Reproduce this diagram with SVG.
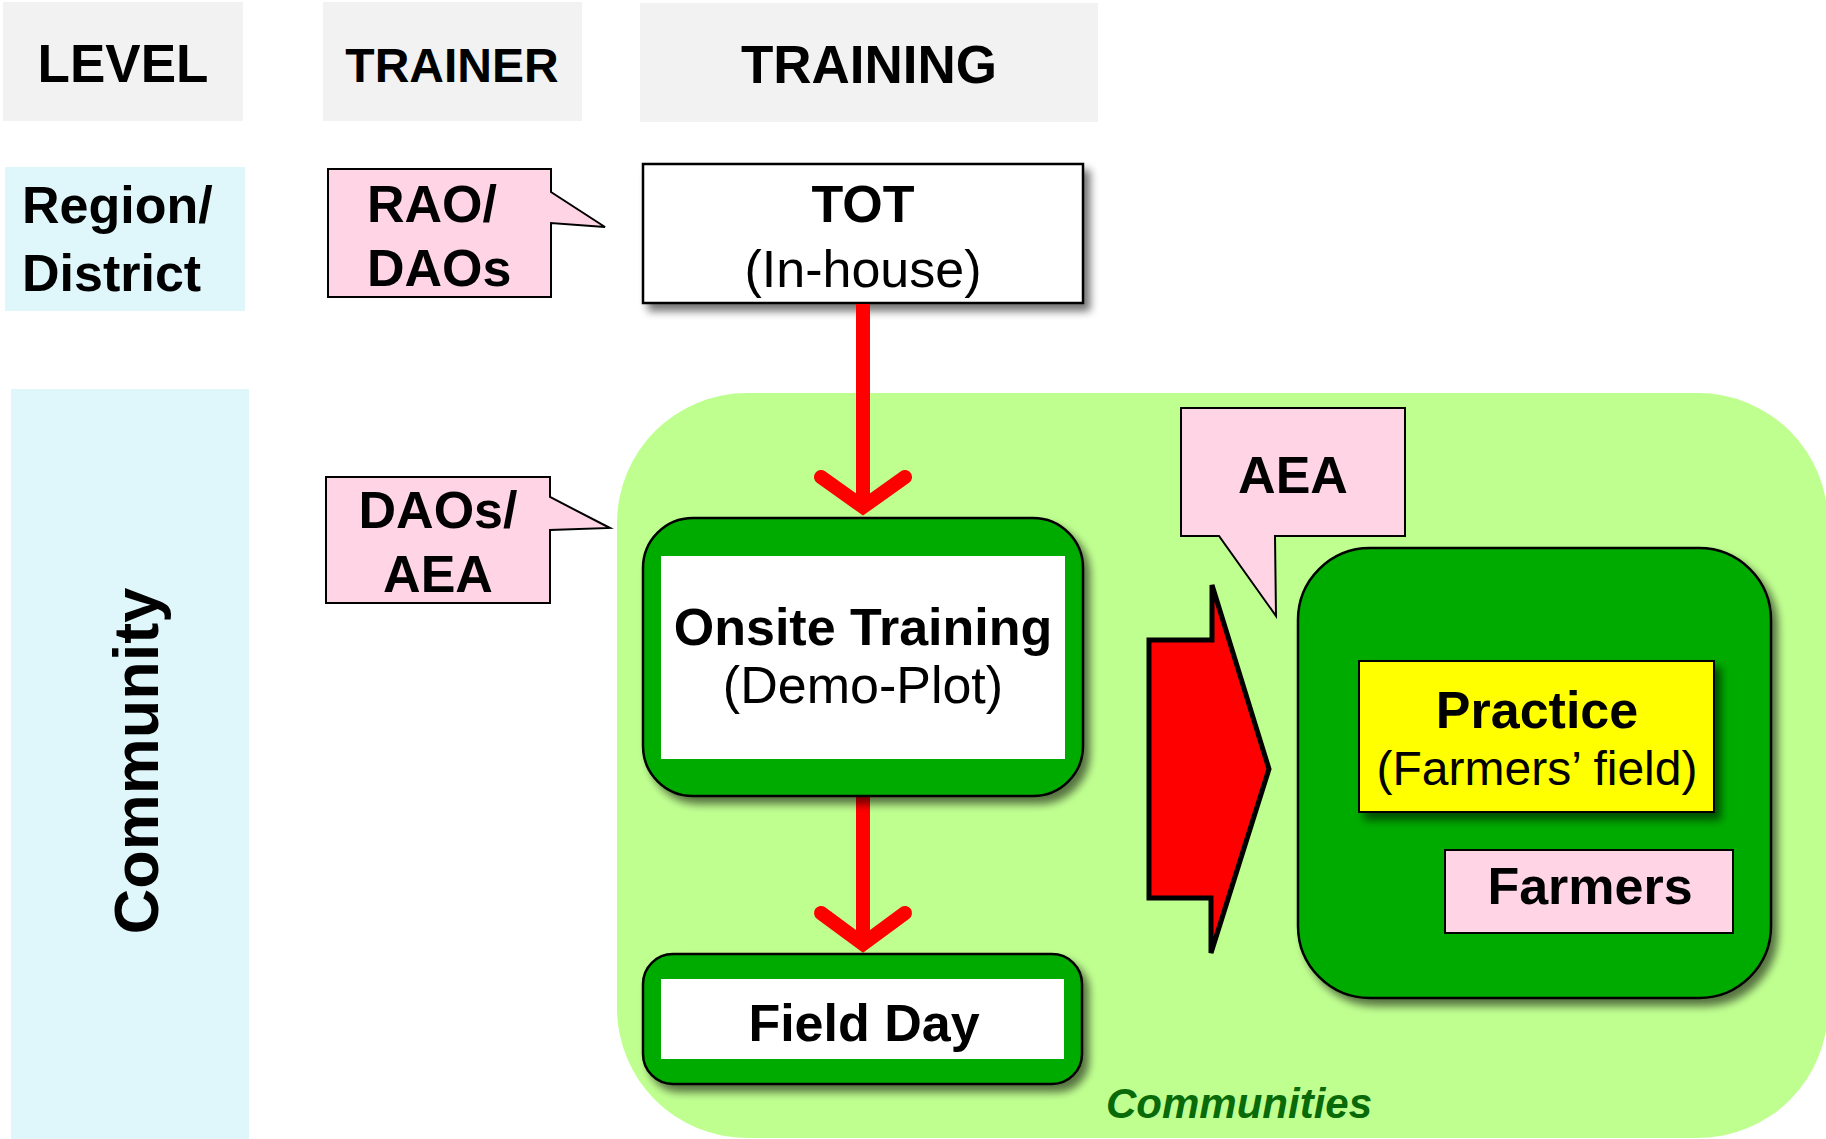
<svg xmlns="http://www.w3.org/2000/svg" width="1826" height="1139" viewBox="0 0 1826 1139">
<defs>
<filter id="sh" x="-10%" y="-10%" width="130%" height="130%">
<feGaussianBlur in="SourceAlpha" stdDeviation="4"/>
<feOffset dx="6" dy="7" result="b"/>
<feComponentTransfer><feFuncA type="linear" slope="0.55"/></feComponentTransfer>
<feMerge><feMergeNode/><feMergeNode in="SourceGraphic"/></feMerge>
</filter>
</defs>
<style>
.hdr{fill:#f2f2f2}
.lvl{fill:#dff6fa}
.pink{fill:#ffd5e6;stroke:#000;stroke-width:2}
.b{font-family:"Liberation Sans",Arial,sans-serif;font-weight:bold;fill:#000}
.r{font-family:"Liberation Sans",Arial,sans-serif;fill:#000}
.m{text-anchor:middle}
.grn{fill:#00ab00;stroke:#000;stroke-width:2.5}
.wht{fill:#fff}
.conn{stroke:#ff0000;stroke-width:14;fill:none;stroke-linecap:round;stroke-linejoin:miter}
.line{stroke:#ff0000;stroke-width:14;fill:none;stroke-linecap:butt}
</style>
<rect x="0" y="0" width="1826" height="1139" fill="#fff"/>

<g id="col-headers">
<g id="hdr-level"><rect class="hdr" x="3" y="2" width="240" height="119"/><text class="b m" x="123" y="82" font-size="53">LEVEL</text></g>
<g id="hdr-trainer"><rect class="hdr" x="323" y="2" width="259" height="119"/><text class="b m" x="452" y="82" font-size="48">TRAINER</text></g>
<g id="hdr-training"><rect class="hdr" x="640" y="3" width="458" height="119"/><text class="b m" x="869" y="83" font-size="53">TRAINING</text></g>
</g>

<g id="level-region"><rect class="lvl" x="5" y="167" width="240" height="144"/>
<text class="b" x="22" y="223" font-size="52">Region/</text><text class="b" x="22" y="291" font-size="52">District</text></g>

<g id="level-community"><rect class="lvl" x="11" y="389" width="238" height="750"/>
<text class="b m" transform="translate(158,761) rotate(-90)" font-size="63">Community</text></g>

<g id="trainer-rao"><path class="pink" d="M328,169 H551 V192 L605,227 L551,223 V297 H328 Z"/>
<text class="b" x="367" y="222" font-size="52">RAO/</text><text class="b" x="367" y="286" font-size="52">DAOs</text></g>

<g id="communities-area"><rect x="617" y="393" width="1211" height="745" rx="130" ry="130" fill="#bfff90"/>
<text x="1106" y="1118" font-family="Liberation Sans,Arial,sans-serif" font-weight="bold" font-style="italic" font-size="42" fill="#086a08">Communities</text></g>

<g id="trainer-dao-aea"><path class="pink" d="M326,477 H550 V497 L610,528 L550,530 V603 H326 Z"/>
<text class="b m" x="438" y="528" font-size="52">DAOs/</text><text class="b m" x="438" y="592" font-size="52">AEA</text></g>

<g id="tot"><rect x="643" y="164" width="440" height="139" fill="#fff" stroke="#000" stroke-width="2.5" filter="url(#sh)"/>
<text class="b m" x="863" y="222" font-size="52">TOT</text><text class="r m" x="863" y="287" font-size="52">(In-house)</text></g>

<g id="connectors">
<path class="line" d="M863,304 V507"/>
<path class="conn" d="M821,477 L863,507 L905,477"/>
<path class="line" d="M863,797 V944"/>
<path class="conn" d="M821,913 L863,944 L905,913"/>
<path id="big-arrow" d="M1149,640 H1212 V585 L1269,769 L1211,953 V898 H1149 Z" fill="#ff0000" stroke="#000" stroke-width="5" stroke-linejoin="miter"/>
</g>

<g id="onsite"><rect class="grn" x="643" y="518" width="440" height="278" rx="50" ry="50" filter="url(#sh)"/>
<rect class="wht" x="661" y="556" width="404" height="203"/>
<text class="b m" x="863" y="645" font-size="52">Onsite Training</text><text class="r m" x="863" y="703" font-size="52">(Demo-Plot)</text></g>

<g id="fieldday"><rect class="grn" x="643" y="954" width="439" height="130" rx="30" ry="30" filter="url(#sh)"/>
<rect class="wht" x="661" y="979" width="403" height="80"/>
<text class="b m" x="864" y="1041" font-size="52">Field Day</text></g>

<g id="trainer-aea"><path class="pink" d="M1181,408 H1405 V536 H1275 L1276,616 L1219,536 H1181 Z"/>
<text class="b m" x="1293" y="493" font-size="52">AEA</text></g>

<g id="practice-area"><rect class="grn" x="1298" y="548" width="473" height="450" rx="72" ry="72" filter="url(#sh)"/></g>

<g id="practice"><rect x="1359" y="661" width="355" height="151" fill="#ffff00" stroke="#000" stroke-width="2" filter="url(#sh)"/>
<text class="b m" x="1537" y="728" font-size="52">Practice</text><text class="r m" x="1537" y="785" font-size="48">(Farmers’ field)</text></g>

<g id="farmers"><rect class="pink" x="1445" y="850" width="288" height="83"/>
<text class="b m" x="1590" y="904" font-size="52">Farmers</text></g>
</svg>
